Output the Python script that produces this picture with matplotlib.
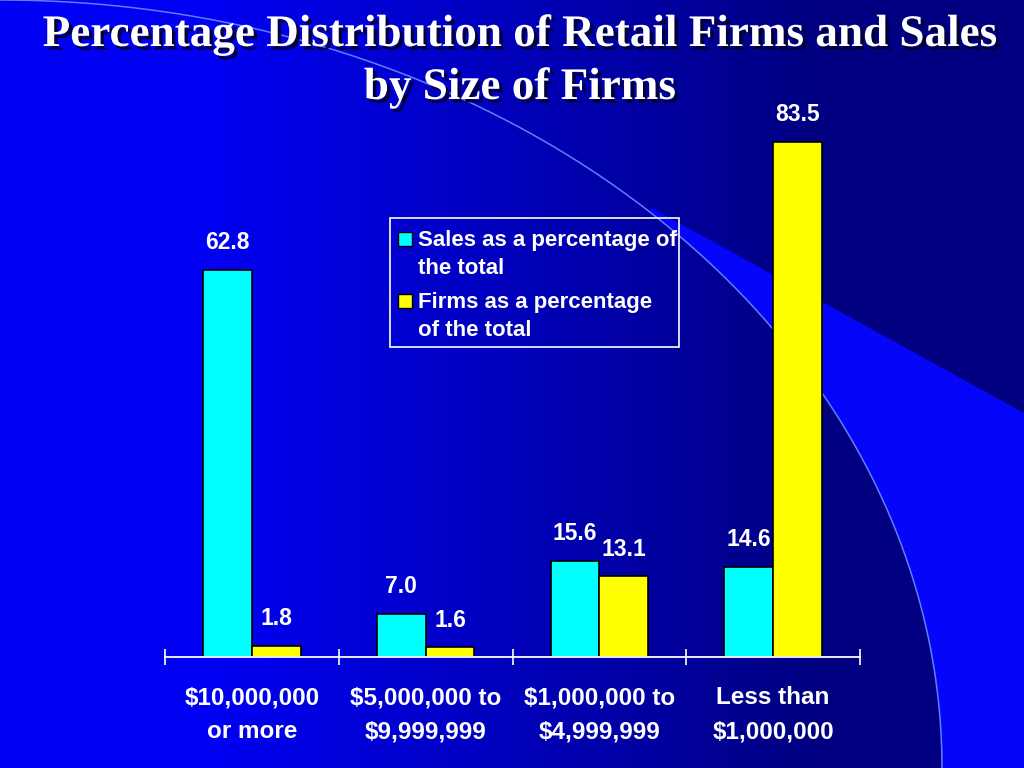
import numpy as np
import matplotlib
matplotlib.use('Agg')
import matplotlib.pyplot as plt
import matplotlib.patheffects as pe
from matplotlib.patches import Polygon, Rectangle

# chart data
categories = ['$10,000,000\nor more', '$5,000,000 to\n$9,999,999',
              '$1,000,000 to\n$4,999,999', 'Less than\n$1,000,000']
sales_pct = [62.8, 7.0, 15.6, 14.6]
firms_pct = [1.8, 1.6, 13.1, 83.5]
series_names = ['Sales as a percentage of\nthe total',
                'Firms as a percentage\nof the total']
title = 'Percentage Distribution of Retail Firms and Sales\nby Size of Firms'

W, H = 1024, 768
SANS = 'Liberation Sans'
SERIF = 'Liberation Serif'


def px(x, y):
    """pixel (top-left origin) -> figure fraction"""
    return x / W, 1 - y / H


fig = plt.figure(figsize=(10.24, 7.68), dpi=100)

# slide background: blue gradient, bright swoosh, thin arc
bg = fig.add_axes([0, 0, 1, 1], zorder=0)
bg.set_xlim(0, W)
bg.set_ylim(H, 0)
bg.axis('off')
xs = np.linspace(0, W, 512)
t = np.clip((xs - 220) / (820 - 220), 0, 1)
grad = np.zeros((2, xs.size, 3))
grad[:, :, 2] = (242 - t * (242 - 128)) / 255
bg.imshow(grad, extent=[0, W, H, 0], aspect='auto')

ang = np.linspace(0, np.pi / 2, 300)
arc_x = 942 * np.sin(ang)
arc_y = 768 - 768 * np.cos(ang)
on_right = arc_x >= 650
wedge = [(650, 207), (1024, 413), (1024, 768)] + \
    list(zip(arc_x[on_right][::-1], arc_y[on_right][::-1]))
bg.add_patch(Polygon(wedge, closed=True, facecolor='#0505fa',
                     edgecolor='none'))
bg.plot(arc_x, arc_y, color='#5f7dff', lw=1.1)

# chart
ax = fig.add_axes([165 / W, 1 - 657 / H, 695 / W, 617 / H], zorder=1)
ax.patch.set_alpha(0)
x = np.arange(len(categories))
bw = 0.28
b1 = ax.bar(x - bw / 2, sales_pct, bw, color='#00ffff', edgecolor='black',
            lw=1.2)
b2 = ax.bar(x + bw / 2, firms_pct, bw, color='#ffff00', edgecolor='black',
            lw=1.2)
for bars, vals in ((b1, sales_pct), (b2, firms_pct)):
    for r, v in zip(bars, vals):
        ax.annotate(f'{v:.1f}', (r.get_x() + r.get_width() / 2, v),
                    xytext=(0, 19.5), textcoords='offset points',
                    ha='center', va='center', color='white',
                    fontsize=16.5, fontweight='bold', family=SANS)

ax.set_xlim(-0.5, len(categories) - 0.5)
ax.set_ylim(0, 100)
for s in ('left', 'right', 'top'):
    ax.spines[s].set_visible(False)
ax.spines['bottom'].set_color('white')
ax.spines['bottom'].set_linewidth(1.3)
ax.set_yticks([])
ax.set_xticks(np.arange(len(categories) + 1) - 0.5)
ax.set_xticklabels([])
ax.tick_params(axis='x', which='major', direction='inout', length=11.5,
               width=1.2, color='white')
ax.set_xticks(x, minor=True)
ax.set_xticklabels(categories, minor=True, color='white', fontsize=17.5,
                   fontweight='bold', family=SANS, linespacing=1.62)
ax.tick_params(axis='x', which='minor', length=0, pad=21)

# legend box
lx0, ly0 = px(390, 347)
lx1, ly1 = px(679, 218)
fig.patches.append(Rectangle((lx0, ly0), lx1 - lx0, ly1 - ly0,
                             transform=fig.transFigure, fill=False,
                             edgecolor='white', lw=1.2, zorder=3))
for name, col, y0 in ((series_names[0], '#00ffff', 239),
                      (series_names[1], '#ffff00', 301)):
    sx, sy = px(398, y0 + 7)
    fig.patches.append(Rectangle((sx, sy), 14 / W, 14 / H,
                                 transform=fig.transFigure, facecolor=col,
                                 edgecolor='black', lw=1, zorder=3))
    for k, line in enumerate(name.split('\n')):
        tx, ty = px(418, y0 + 1.5 + 28 * k)
        fig.text(tx, ty, line, ha='left', va='center', color='white',
                 fontsize=16, fontweight='bold', family=SANS, zorder=4)

# title
shadow = [pe.SimplePatchShadow(offset=(2.5, -2.5), shadow_rgbFace='#000030',
                               alpha=0.9), pe.Normal()]
for k, line in enumerate(title.split('\n')):
    tx, ty = px(520, 35 + 53 * k)
    fig.text(tx, ty, line, ha='center', va='center', color='white',
             fontsize=32.5, fontweight='bold', family=SERIF,
             path_effects=shadow, zorder=4)

fig.savefig('out.png', dpi=100)
